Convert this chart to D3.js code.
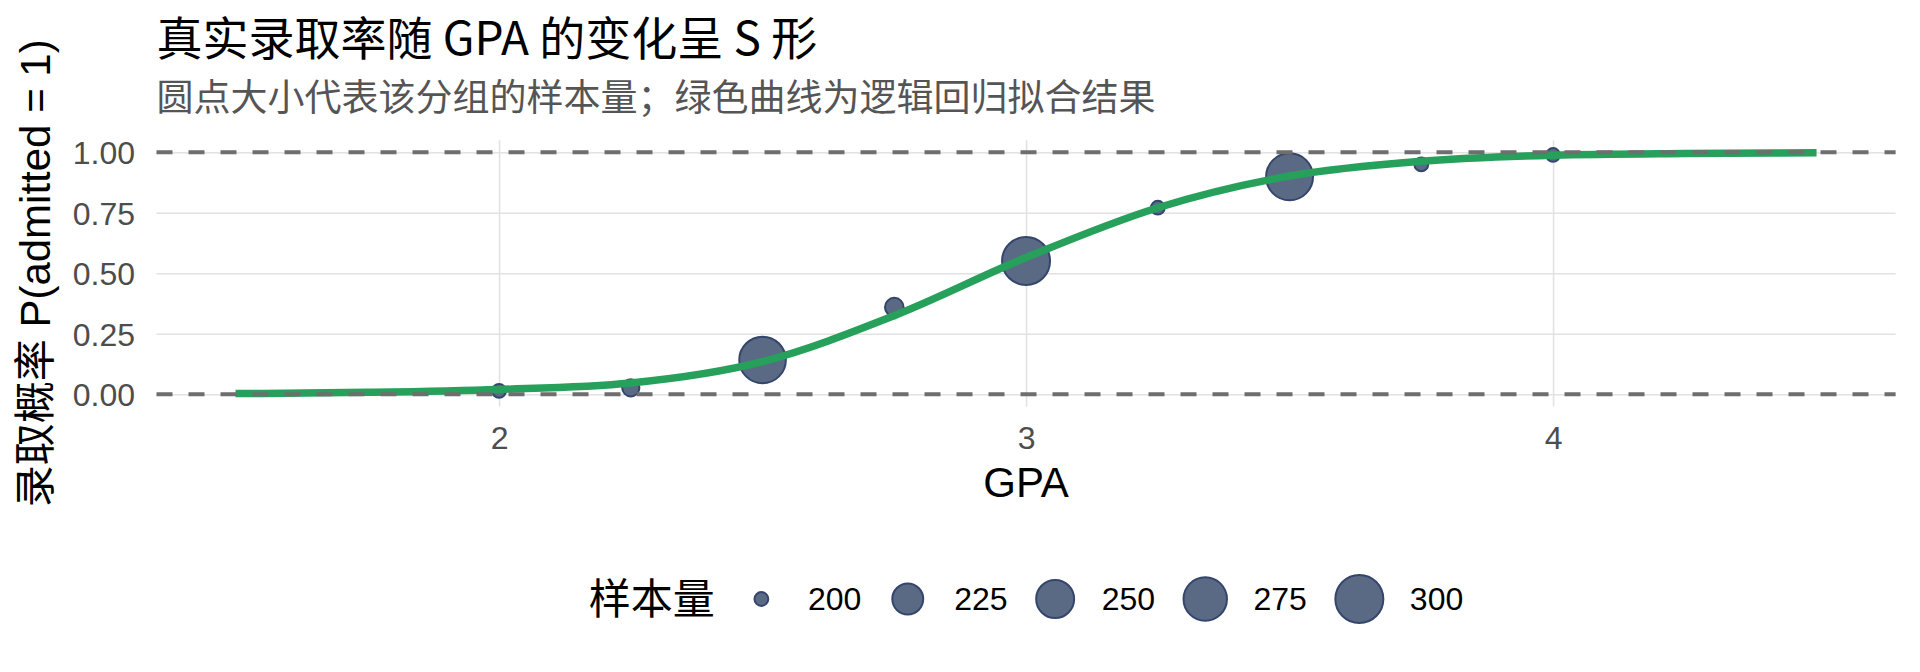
<!DOCTYPE html>
<html lang="zh">
<head>
<meta charset="UTF-8">
<title>真实录取率随 GPA 的变化呈 S 形</title>
<style>
  body { margin: 0; background: #fff; }
  svg { display: block; }
  .grid line { stroke: #e2e2e2; stroke-width: 1.6px; }
  .grid path { display: none; }
  .ref { stroke: #6e6e6e; stroke-width: 4px; stroke-dasharray: 16 16; }
  .axis path { display: none; }
  .axis text { font-family: "Liberation Sans", Arial, sans-serif; font-size: 32px; fill: #4d4d4d; }
  .axis-title { font-family: "Liberation Sans", Arial, "Noto Sans CJK SC", sans-serif; font-size: 42px; fill: #000; }
  .title { font-family: "Noto Sans CJK SC", sans-serif; font-size: 46px; fill: #000; }
  .subtitle { font-family: "Noto Sans CJK SC", sans-serif; font-size: 37px; fill: #555; }
  .legend-title { font-family: "Liberation Sans", "Noto Sans CJK SC", sans-serif; font-size: 42px; fill: #000; }
  .legend-label { font-family: "Liberation Sans", Arial, sans-serif; font-size: 32px; fill: #000; }
  .pt { fill: #5a6a85; stroke: #34466b; stroke-width: 2px; }
  .fit { fill: none; stroke: #26a05a; stroke-width: 7.5px; }
</style>
</head>
<body>
<svg id="chart"></svg>
<script src="https://cdn.jsdelivr.net/npm/d3@7"></script>
<script>

// grouped observations
var gpaGroups  = [2.0, 2.25, 2.5, 2.75, 3.0, 3.25, 3.5, 3.75, 4.0];
var admitRate  = [0.014, 0.027, 0.142, 0.36, 0.551, 0.771, 0.899, 0.950, 0.989];
var sampleSize = [200, 201, 292, 202, 300, 200, 294, 200, 200];

// logistic fit
var fitGpa  = [1.5, 1.75, 2.0, 2.25, 2.5, 2.75, 3.0, 3.25, 3.5, 3.75, 4.0, 4.25, 4.5];
var fitProb = [0.003, 0.008, 0.02, 0.047, 0.135, 0.325, 0.565, 0.771, 0.902, 0.963, 0.988, 0.995, 0.998];

var xTicks = [2, 3, 4];
var yTicks = [0, 0.25, 0.5, 0.75, 1];
var refLines = [0, 1];
var sizeBreaks = [200, 225, 250, 275, 300];

var width = 1920,
    height = 672,
    panel = { left: 156.5, right: 1895.6, top: 140.2, bottom: 406.4 };

var svg = d3.select("#chart")
  .attr("width", width)
  .attr("height", height);

var x = d3.scaleLinear().domain([1.35, 4.65]).range([panel.left, panel.right]);
var y = d3.scaleLinear().domain([-0.05, 1.05]).range([panel.bottom, panel.top]);

// size: sqrt of the rescaled sample size, like an area scale
var sizeT = d3.scaleLinear().domain([200, 300]).range([0, 1]);
var radius = d3.scaleSqrt().domain([0, 1]).range([6.9, 24]);

// grid
svg.append("g")
  .attr("class", "grid")
  .attr("transform", "translate(0," + panel.bottom + ")")
  .call(d3.axisBottom(x).tickValues(xTicks).tickSize(-(panel.bottom - panel.top)).tickFormat(""));

svg.append("g")
  .attr("class", "grid")
  .attr("transform", "translate(" + panel.left + ",0)")
  .call(d3.axisLeft(y).tickValues(yTicks).tickSize(-(panel.right - panel.left)).tickFormat(""));

// axes
svg.append("g")
  .attr("class", "axis")
  .attr("transform", "translate(0," + panel.bottom + ")")
  .call(d3.axisBottom(x).tickValues(xTicks).tickSize(0).tickPadding(20).tickFormat(d3.format("d")));

svg.append("g")
  .attr("class", "axis")
  .attr("transform", "translate(" + panel.left + ",0)")
  .call(d3.axisLeft(y).tickValues(yTicks).tickSize(0).tickPadding(21.5).tickFormat(d3.format(".2f")))
  .selectAll("text").attr("dy", "0.35em");

// points
var obs = gpaGroups.map(function(g, i) {
  return { gpa: g, rate: admitRate[i], n: sampleSize[i] };
});

svg.append("g")
  .selectAll("circle")
  .data(obs)
  .enter()
  .append("circle")
    .attr("class", "pt")
    .attr("cx", function(d) { return x(d.gpa); })
    .attr("cy", function(d) { return y(d.rate); })
    .attr("r", function(d) { return radius(sizeT(d.n)); });

// fitted curve
var line = d3.line()
  .x(function(d, i) { return x(fitGpa[i]); })
  .y(function(d) { return y(d); })
  .curve(d3.curveMonotoneX);

svg.append("path")
  .attr("class", "fit")
  .attr("d", line(fitProb));

// dashed reference lines at 0 and 1
svg.append("g")
  .selectAll("line")
  .data(refLines)
  .enter()
  .append("line")
    .attr("class", "ref")
    .attr("x1", panel.left)
    .attr("x2", panel.right)
    .attr("y1", function(d) { return y(d); })
    .attr("y2", function(d) { return y(d); });

// titles
svg.append("text")
  .attr("class", "title")
  .attr("x", panel.left)
  .attr("y", 55)
  .text("真实录取率随 GPA 的变化呈 S 形");

svg.append("text")
  .attr("class", "subtitle")
  .attr("x", panel.left)
  .attr("y", 110.5)
  .text("圆点大小代表该分组的样本量；绿色曲线为逻辑回归拟合结果");

svg.append("text")
  .attr("class", "axis-title")
  .attr("x", (panel.left + panel.right) / 2)
  .attr("y", 497)
  .attr("text-anchor", "middle")
  .text("GPA");

svg.append("text")
  .attr("class", "axis-title")
  .attr("transform", "translate(50," + ((panel.top + panel.bottom) / 2) + ") rotate(-90)")
  .attr("text-anchor", "middle")
  .text("录取概率 P(admitted = 1)");

// legend
var legend = svg.append("g");

var lt = legend.append("text")
  .attr("class", "legend-title")
  .attr("x", 0)
  .attr("dy", "0.36em")
  .text("样本量");

var cursor = lt.node().getComputedTextLength();

sizeBreaks.forEach(function(b) {
  var r = radius(sizeT(b));
  var cx = cursor + Math.max(46.5, r + 28.5);
  legend.append("circle")
    .attr("class", "pt")
    .attr("cx", cx)
    .attr("cy", 0)
    .attr("r", r);
  var lab = legend.append("text")
    .attr("class", "legend-label")
    .attr("x", cx + Math.max(46.5, r + 26.5))
    .attr("dy", "0.35em")
    .text(b);
  cursor = cx + Math.max(46.5, r + 26.5) + lab.node().getComputedTextLength();
});

legend.attr("transform", "translate(" + ((panel.left + panel.right) / 2 - cursor / 2) + ",599)");

</script>
</body>
</html>
